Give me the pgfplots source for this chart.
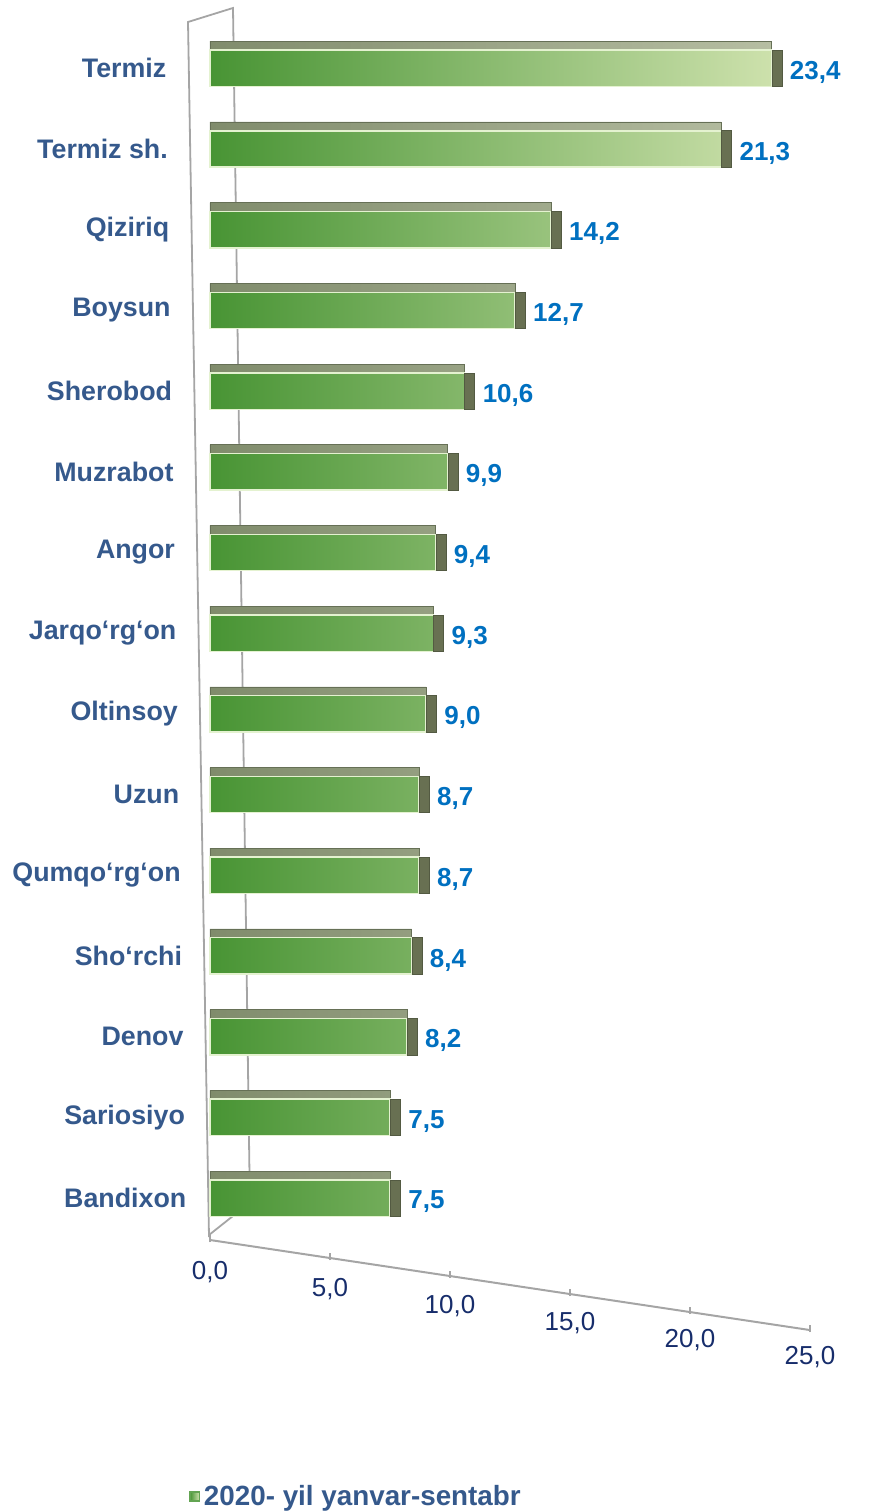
\documentclass[border=0pt]{standalone}
\usepackage{pgfplots}
\pgfplotsset{compat=1.18}
\usepackage{fontspec}
\setmainfont{Liberation Sans}
\definecolor{catblue}{RGB}{53,89,140}
\definecolor{valblue}{RGB}{0,112,192}
\definecolor{tickblue}{RGB}{23,45,107}
\definecolor{barL}{RGB}{72,148,52}
\definecolor{barR}{RGB}{205,225,172}
\definecolor{topL}{RGB}{128,140,108}
\definecolor{topR}{RGB}{182,190,162}
\definecolor{endFace}{RGB}{104,112,82}
\definecolor{barEdge}{RGB}{228,242,208}
\definecolor{wall}{RGB}{165,165,165}
\begin{document}
\begin{tikzpicture}
\useasboundingbox (0,0) rectangle (436.5pt,756pt);
% back wall of the 3D frame (1px = 0.5pt, y from the bottom)
\draw[wall, line width=0.9pt] (104.5pt,137.5pt) -- (94pt,745pt) -- (116.5pt,752pt) -- (125pt,151pt);
\draw[wall, line width=0.9pt] (104.5pt,138.5pt) -- (119pt,150pt);
\begin{axis}[
  at={(105pt,124.7pt)}, anchor=south west,
  scale only axis, width=300pt, height=625.4pt,
  xmin=0, xmax=25, ymin=-0.8, ymax=14.7,
  clip=false,
  axis lines*=left,
  x axis line style={draw=none},
  y axis line style={draw=none},
  xtick={0,5,...,25},
  ytick={0,...,14},
  yticklabels={Bandixon,Sariosiyo,Denov,Sho‘rchi,Qumqo‘rg‘on,Uzun,Oltinsoy,Jarqo‘rg‘on,Angor,Muzrabot,Sherobod,Boysun,Qiziriq,Termiz sh.,Termiz},
  major tick length=0pt,
  /pgf/number format/assume math mode=true,
  xticklabel={\pgfmathprintnumber[fixed,fixed zerofill,precision=1,use comma]{\tick}},
  xticklabel style={font=\fontsize{13}{15}\selectfont, text=tickblue, yshift={4pt-\ticknum*8.5pt}},
  yticklabel style={font=\bfseries\fontsize{13.4}{15}\selectfont, text=catblue, anchor=east, xshift={-8.3pt-\ticknum*0.714pt}},
  legend style={at={(-0.045,-0.187)}, anchor=west, draw=none, fill=none,
    font=\bfseries\fontsize{13.9}{16}\selectfont, text=catblue},
  legend image code/.code={\fill[barL!85!white] (0pt,-2.3pt) rectangle (4.6pt,2.3pt);},
]
% top and end faces of the 3D bars
\addplot[xbar, bar width=0.45, bar shift=0.11, draw=topL!80!black, line width=0.3pt,
  left color=topL, right color=topR, forget plot,
  point meta=x,
  nodes near coords={},
  every node near coord/.style={anchor=west, inner sep=0pt, minimum width=5pt, minimum height=18.2pt,
    fill=endFace, draw=endFace!80!black, line width=0.3pt}]
  coordinates {(7.5,0) (7.5,1) (8.2,2) (8.4,3) (8.7,4) (8.7,5) (9.0,6) (9.3,7) (9.4,8) (9.9,9) (10.6,10) (12.7,11) (14.2,12) (21.3,13) (23.4,14)};
% front face
\addplot[xbar, bar width=0.45, bar shift=0, draw=barEdge, line width=0.7pt, left color=barL, right color=barR,
  point meta=x,
  nodes near coords={\pgfmathprintnumber[fixed,fixed zerofill,precision=1,use comma]{\pgfplotspointmeta}},
  every node near coord/.append style={anchor=west, font=\bfseries\fontsize{13}{15}\selectfont, text=valblue, xshift=5.5pt, yshift=-2pt}]
  coordinates {(7.5,0) (7.5,1) (8.2,2) (8.4,3) (8.7,4) (8.7,5) (9.0,6) (9.3,7) (9.4,8) (9.9,9) (10.6,10) (12.7,11) (14.2,12) (21.3,13) (23.4,14)};
\addlegendentry{2020- yil yanvar-sentabr}
% slanted value axis of the 3D frame
\draw[wall, line width=1pt] (axis cs:0,-0.52) -- (axis cs:25,-1.636);
\pgfplotsinvokeforeach{0,5,10,15,20,25}{
  \draw[wall, line width=0.8pt] (axis cs:#1,{-0.55-#1*0.04464}) -- (axis cs:#1,{-0.46-#1*0.04464});
}
\end{axis}
\end{tikzpicture}
\end{document}
